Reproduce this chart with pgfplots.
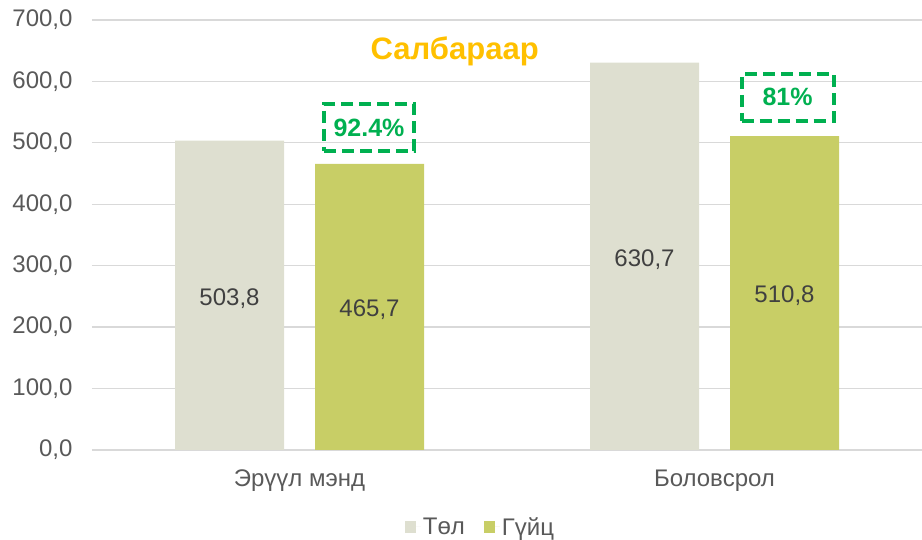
\documentclass[border=0pt]{standalone}
\usepackage{fontspec}
\setmainfont{Liberation Sans}
\usepackage{pgfplots}
\pgfplotsset{compat=1.18}
\usetikzlibrary{calc}
\definecolor{tol}{RGB}{222,223,208}
\definecolor{guits}{RGB}{200,206,102}
\definecolor{boxgreen}{RGB}{0,176,80}
\definecolor{titleor}{RGB}{255,192,0}
\definecolor{txt}{RGB}{89,89,89}
\definecolor{numtxt}{RGB}{64,64,64}
\definecolor{gridc}{RGB}{217,217,217}
\newcommand{\fs}{\fontsize{24}{27}\selectfont}
\begin{document}
\begin{tikzpicture}
\begin{axis}[name=ax, scale only axis, width=830pt, height=430pt,
  xmin=-0.5, xmax=1.5, ymin=0, ymax=700,
  ytick={0,100,...,700},
  xtick={0,1}, xticklabels={Эрүүл мэнд, Боловсрол},
  axis line style={draw=none}, major tick length=0pt,
  ymajorgrids, grid style={gridc, line width=1.3pt},
  tick label style={font=\fs, text=txt},
  yticklabel style={xshift=-16pt},
  xticklabel style={yshift=-16pt},
  /pgf/number format/fixed, /pgf/number format/fixed zerofill,
  /pgf/number format/precision=1, /pgf/number format/use comma,
  /pgf/number format/assume math mode=true,
  clip=false,
  legend columns=2,
  legend style={draw=none, at={(0.468,-0.179)}, anchor=center, font=\fs, text=txt,
    /tikz/every even column/.append style={column sep=17pt}},
  nodes near coords={\pgfmathprintnumber[fixed,fixed zerofill,precision=1,use comma,assume math mode=true]{\pgfplotspointmeta}},
  every node near coord/.append style={font=\fs, text=numtxt, anchor=center, shift={(axis direction cs:0,-\rawy/2)}, yshift=-3pt},
  visualization depends on=y \as \rawy,
]
\addplot[ybar, bar width=109pt, bar shift=-70pt, fill=tol, draw=none,
  every node near coord/.append style={xshift=-70pt},
  legend image code/.code={\path (0pt,0pt) -- (16pt,0pt); \fill[tol] (0pt,-6pt) rectangle (11.5pt,5.5pt);}]
  coordinates {(0,503.8) (1,630.7)};
\addplot[ybar, bar width=109pt, bar shift=70pt, fill=guits, draw=none,
  every node near coord/.append style={xshift=70pt},
  legend image code/.code={\path (0pt,0pt) -- (16pt,0pt); \fill[guits] (0pt,-6pt) rectangle (11.5pt,5.5pt);}]
  coordinates {(0,465.7) (1,510.8)};
\legend{Төл, Гүйц}
\node[font=\bfseries\fontsize{31}{34}\selectfont, text=titleor] at (rel axis cs:0.437,0.927) {Салбараар};
\node[draw=boxgreen, dash pattern=on 12pt off 6pt, line width=4pt, minimum width=90pt, minimum height=47pt, text=boxgreen, font=\bfseries\fontsize{25}{28}\selectfont] at (axis cs:0.1675,525) {92.4\%};
\node[draw=boxgreen, dash pattern=on 12pt off 6pt, line width=4pt, minimum width=92pt, minimum height=47pt, text=boxgreen, font=\bfseries\fontsize{25}{28}\selectfont] at (axis cs:1.176,574) {81\%};
\end{axis}
\pgfresetboundingbox
\path ($(ax.south west)+(-92pt,-90pt)$) rectangle ($(ax.north east)+(0pt,20pt)$);
\end{tikzpicture}
\end{document}
